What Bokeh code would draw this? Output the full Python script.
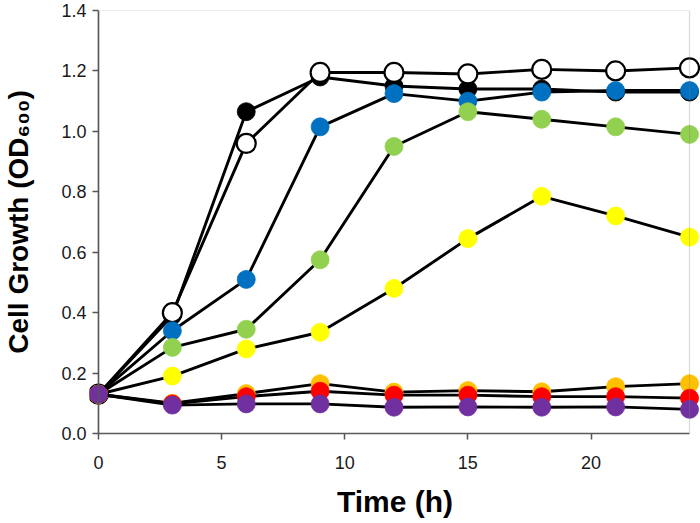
from bokeh.plotting import figure
from bokeh.models import Range1d, BoxAnnotation, FixedTicker, ColumnDataSource, Span, NumeralTickFormatter
from bokeh.embed import file_html
from bokeh.resources import INLINE

time_h = [0, 3, 6, 9, 12, 15, 18, 21, 24]
black = [0.13, 0.39, 1.065, 1.18, 1.15, 1.14, 1.14, 1.13, 1.13]
white = [0.13, 0.40, 0.96, 1.195, 1.195, 1.19, 1.205, 1.20, 1.21]
blue = [0.13, 0.34, 0.51, 1.015, 1.125, 1.10, 1.13, 1.135, 1.135]
green = [0.13, 0.285, 0.345, 0.575, 0.95, 1.065, 1.04, 1.015, 0.99]
yellow = [0.13, 0.19, 0.28, 0.335, 0.48, 0.645, 0.785, 0.72, 0.65]
orange = [0.13, 0.10, 0.132, 0.165, 0.137, 0.142, 0.138, 0.155, 0.165]
red = [0.13, 0.098, 0.122, 0.14, 0.127, 0.127, 0.122, 0.122, 0.117]
purple = [0.13, 0.094, 0.098, 0.098, 0.087, 0.088, 0.087, 0.088, 0.08]

series = [
    (black, "#000000", "#000000"),
    (white, "#FFFFFF", "#000000"),
    (blue, "#0070C0", "#0070C0"),
    (green, "#92D050", "#92D050"),
    (yellow, "#FFFF00", "#FFFF00"),
    (orange, "#FFC000", "#FFC000"),
    (red, "#FF0000", "#FF0000"),
    (purple, "#7030A0", "#7030A0"),
]

x_ticks = [0, 5, 10, 15, 20]
y_ticks = [0.0, 0.2, 0.4, 0.6, 0.8, 1.0, 1.2, 1.4]

p = figure(width=700, height=523, output_backend="svg", toolbar_location=None,
           x_range=Range1d(-0.365, 24.446), y_range=Range1d(0, 1.4),
           min_border_left=88, min_border_right=0, min_border_top=10, min_border_bottom=90)
p.outline_line_color = None
p.grid.visible = False
p.background_fill_color = "white"

frame = BoxAnnotation(left=0, right=24, bottom=0, top=1.4, fill_alpha=0,
                      line_color="#808080", line_width=1.2)
p.add_layout(frame)
p.add_layout(Span(location=0, dimension="height", line_color="#555555", line_width=1.6))

for vals, fill, edge in series:
    src = ColumnDataSource(dict(t=time_h, v=vals))
    p.line("t", "v", source=src, line_color="black", line_width=2.9)
    if fill == "#FFFFFF":
        p.scatter("t", "v", source=src, size=19, fill_color=fill, line_color=edge, line_width=2.2)
    else:
        p.scatter("t", "v", source=src, size=18, fill_color=fill, line_color=edge, line_width=0.8)

font = "Liberation Sans"
xa = p.xaxis[0]
xa.ticker = FixedTicker(ticks=x_ticks)
xa.bounds = (0, 24)
xa.axis_label = "Time (h)"
ya = p.yaxis[0]
ya.ticker = FixedTicker(ticks=y_ticks)
ya.formatter = NumeralTickFormatter(format="0.0")
ya.axis_label = "Cell Growth (OD\u2086\u2080\u2080)"

for ax in (xa, ya):
    ax.major_tick_line_color = "#555555"
    ax.major_tick_line_width = 1.5
    ax.minor_tick_line_color = None
    ax.major_label_text_font = font
    ax.major_label_text_font_size = "18px"
    ax.major_label_text_color = "#1a1a1a"
    ax.axis_label_text_font = font
    ax.axis_label_text_font_style = "bold"
    ax.axis_label_text_color = "#000000"

xa.axis_line_color = "#555555"
xa.axis_line_width = 1.5
xa.major_tick_out = 6
xa.major_tick_in = 0
xa.major_label_standoff = 16
xa.axis_label_standoff = 13
xa.axis_label_text_font_size = "30px"

ya.axis_line_color = None
ya.major_tick_in = 9
ya.major_tick_out = -3
ya.major_label_standoff = 3
ya.axis_label_standoff = 24
ya.axis_label_text_font_size = "28px"

open("out.html", "w").write(file_html(p, INLINE))
